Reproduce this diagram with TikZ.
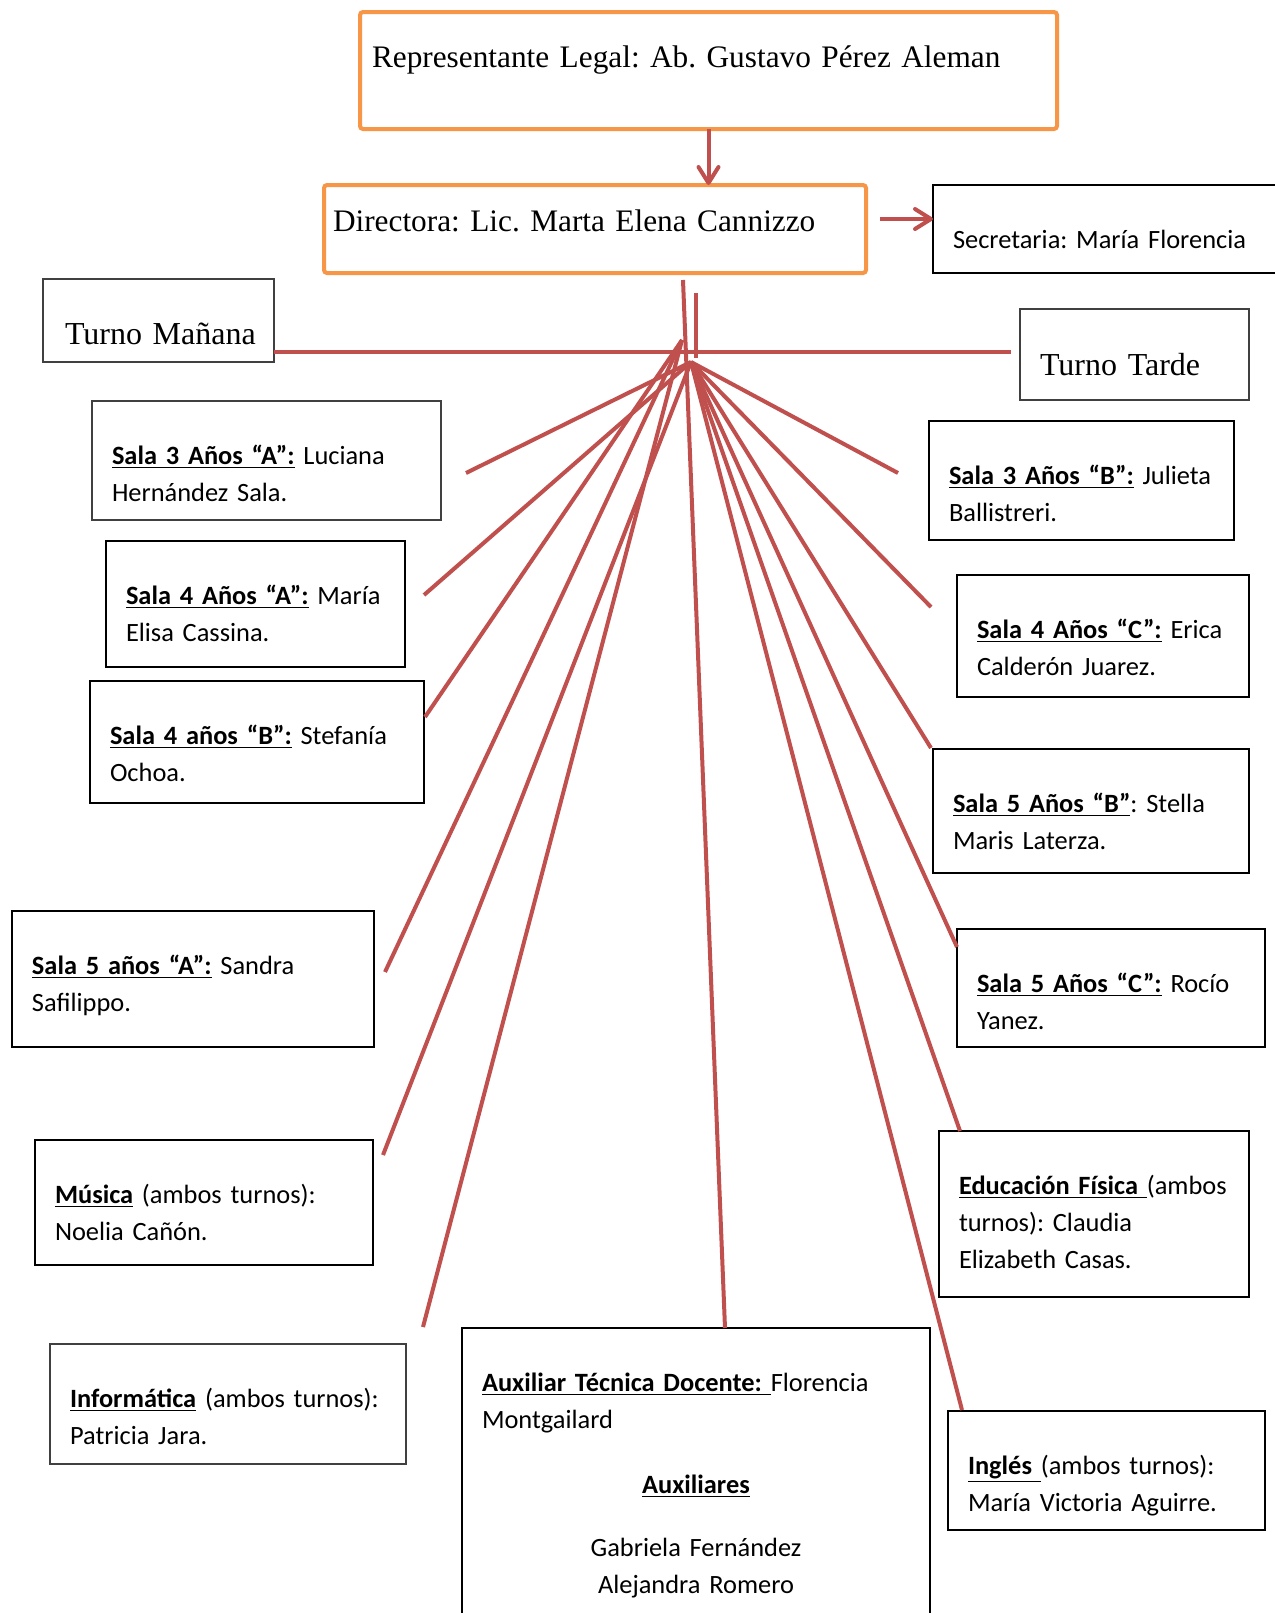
\documentclass[tikz,border=0pt]{standalone}
\usepackage{fontspec}
\setmainfont{Liberation Serif}
\setsansfont{Carlito}
\usepackage{tikz}
\usetikzlibrary{arrows.meta}
\frenchspacing
\definecolor{wordred}{RGB}{192,80,77}
\definecolor{wordorange}{RGB}{247,150,70}
\newcommand{\lbl}[1]{\underline{\textbf{#1}}}
\tikzset{
    orangebox/.style={draw=wordorange, line width=2pt, rounded corners=1.5pt, anchor=north west, outer sep=0pt, inner ysep=0pt, align=left, font=\rmfamily\fontsize{15.65}{19}\selectfont}, % top boxes
    salabox/.style={draw, line width=1pt, anchor=north west, outer sep=0pt, inner xsep=10pt, inner ysep=0pt, text height=31.5pt, align=left, font=\sffamily\fontsize{13.2}{18.5}\selectfont},
    thinbox/.style={salabox, line width=0.7pt, draw=black!75},
    turno/.style={thinbox, font=\rmfamily\fontsize{16}{19}\selectfont},
    link/.style={draw=wordred, line width=2pt},
    arr/.style={link, -{Straight Barb[length=8pt,width=10pt,round]}}
}

\begin{document}
\begin{tikzpicture}[x=0.5pt,y=-0.5pt]
    \useasboundingbox (0,0) rectangle (1275,1613);

    \node[orangebox, inner xsep=6pt, text width=336.5pt, text height=27.5pt, text depth=31pt] (rep) at (360,12) {Representante Legal: Ab. Gustavo Pérez Aleman};
    \node[orangebox, inner xsep=4.5pt, text width=262pt, text height=23pt, text depth=21pt] (dir) at (324,185) {Directora: Lic. Marta Elena Cannizzo};
    \node[salabox, text width=152pt, text depth=12.5pt] (sec) at (933,185) {Secretaria: María Florencia};

    \node[turno, inner xsep=11pt, text width=93.5pt, text height=32.5pt, text depth=9pt] (tm) at (43,279) {Turno~Mañana};
    \node[turno, text width=94.5pt, text height=33pt, text depth=12.5pt] (tt) at (1020,309) {Turno~Tarde};

    \node[thinbox, text width=154.5pt, text depth=28pt] (s3a) at (92,401) {\lbl{Sala 3 Años “A”:} Luciana\\Hernández Sala.};
    \node[salabox, text width=129.5pt, text depth=31.5pt] (s4a) at (106,541) {\lbl{Sala 4 Años “A”:} María\\Elisa Cassina.};
    \node[salabox, text width=147pt, text depth=29.5pt] (s4b) at (90,681) {\lbl{Sala 4 años “B”:} Stefanía\\Ochoa.};
    \node[salabox, text width=161pt, text depth=36.5pt] (s5a) at (12,911) {\lbl{Sala 5 años “A”:} Sandra\\Safilippo.};
    \node[salabox, text width=149pt, text depth=31pt] (mus) at (35,1140) {\lbl{Música} (ambos turnos):\\Noelia Cañón.};
    \node[thinbox, text width=158pt, text depth=28.5pt] (inf) at (50,1344) {\lbl{Informática} (ambos turnos):\\Patricia Jara.};

    \node[salabox, text width=214pt, text depth=119.5pt] (aux) at (462,1328) {\lbl{Auxiliar Técnica Docente: }Florencia\\Montgailard\par\vspace{14pt}
        \makebox[\linewidth]{\lbl{Auxiliares}}\par\vspace{13pt}
        \makebox[\linewidth]{Gabriela Fernández}\par
        \makebox[\linewidth]{Alejandra Romero}};

    \node[salabox, text width=132.5pt, text depth=28pt] (s3b) at (929,421) {\lbl{Sala 3 Años “B”:} Julieta\\Ballistreri.};
    \node[salabox, text width=126pt, text depth=29.5pt] (s4c) at (957,575) {\lbl{Sala 4 Años “C”:} Erica\\Calderón Juarez.};
    \node[salabox, text width=138pt, text depth=30.5pt] (s5b) at (933,749) {\lbl{Sala 5 Años “B”}: Stella\\Maris Laterza.};
    \node[salabox, text width=134pt, text depth=27.5pt] (s5c) at (957,929) {\lbl{Sala 5 Años “C”:} Rocío\\Yanez.};
    \node[salabox, text width=135pt, text depth=51.5pt] (edf) at (939,1131) {\lbl{Educación Física }(ambos\\turnos): Claudia\\Elizabeth Casas.};
    \node[salabox, text width=138.5pt, text depth=28pt] (ing) at (948,1411) {\lbl{Inglés }(ambos turnos):\\María Victoria Aguirre.};

    \coordinate (hub) at (691,362);
    \coordinate (hubtop) at (682,340);
    \coordinate (e3a) at (466,473);
    \coordinate (e4a) at (424,595);
    \coordinate (e4b) at (425,717);
    \coordinate (e5a) at (385,972);
    \coordinate (emus) at (383,1155);
    \coordinate (einf) at (423,1327);
    \coordinate (e3b) at (898,473);
    \coordinate (e4c) at (931,607);
    \coordinate (e5b) at (931,748);
    \coordinate (e5c) at (957,947);
    \coordinate (eedf) at (960,1131);
    \coordinate (eing) at (962,1410);
    \coordinate (tml) at ([yshift=5pt]tm.south east);
    \coordinate (ttl) at ([xshift=-4.5pt]tt.west);

    \draw[arr] (rep.south) -- (rep.south |- dir.north);
    \draw[arr] ([shift={(14,-10)}]dir.east) -- ([yshift=5pt]sec.west);

    \draw[link] (tml) -- (tml -| ttl);
    \draw[link] ([shift={(101,20)}]dir.south) -- ([shift={(101,85)}]dir.south);
    \draw[link] ([shift={(88,7)}]dir.south) -- ([xshift=14.5pt]aux.north);

    \draw[link] (hub) -- (e3a);
    \draw[link] (hub) -- (e4a);
    \draw[link] (hubtop) -- (e4b);
    \draw[link] (hubtop) -- (e5a);
    \draw[link] (hub) -- (emus);
    \draw[link] (hubtop) -- (einf);

    \draw[link] (hub) -- (e3b);
    \draw[link] (hub) -- (e4c);
    \draw[link] (hub) -- (e5b);
    \draw[link] (hub) -- (e5c);
    \draw[link] (hub) -- (eedf);
    \draw[link] (hub) -- (eing);
\end{tikzpicture}
\end{document}
